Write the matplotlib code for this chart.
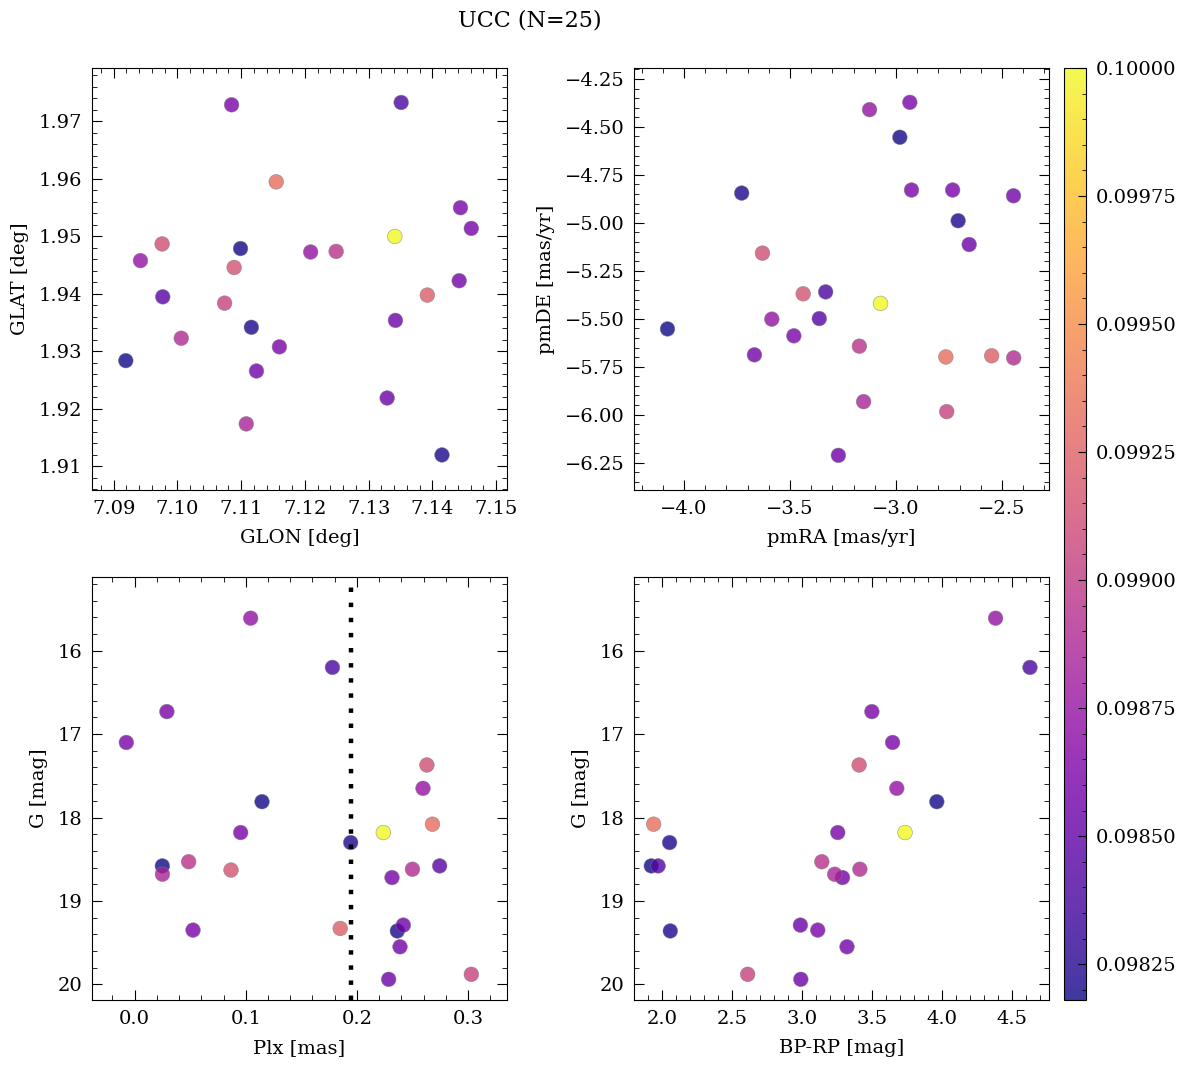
import numpy as np
import matplotlib
matplotlib.use("Agg")
from matplotlib import pyplot as plt
from matplotlib.ticker import FormatStrFormatter, AutoMinorLocator, MultipleLocator

plt.rcParams['font.family'] = ['DejaVu Serif']
plt.rcParams['font.size'] = 14

# one entry per star (25)
plx = np.array([0.1044, 0.178, 0.029, -0.0075, 0.263, 0.2595, 0.1146, 0.268, 0.2238,
                0.0954, 0.1944, 0.0486, 0.0249, 0.2745, 0.0867, 0.250, 0.025, 0.2316,
                0.2418, 0.2364, 0.0525, 0.185, 0.2388, 0.303, 0.2286])
gmag = np.array([15.61, 16.20, 16.73, 17.10, 17.37, 17.65, 17.81, 18.08, 18.18,
                 18.18, 18.30, 18.53, 18.58, 18.58, 18.63, 18.62, 18.68, 18.72,
                 19.29, 19.36, 19.35, 19.33, 19.55, 19.88, 19.94])
bprp = np.array([4.382, 4.628, 3.498, 3.646, 3.407, 3.676, 3.962, 1.938, 3.735,
                 3.254, 2.052, 3.140, 1.921, 1.970, np.nan, 3.412, 3.232, 3.288,
                 2.987, 2.057, 3.111, np.nan, 3.320, 2.610, 2.990])
glon = np.array([7.0942, 7.1351, 7.1085, 7.1444, 7.0976, 7.1209, 7.1099, 7.1155, 7.1341,
                 7.1461, 7.1116, 7.1249, 7.0919, 7.0977, 7.1089, 7.1006, 7.1108, 7.1442,
                 7.1342, 7.1415, 7.1160, 7.1392, 7.1124, 7.1074, 7.1329])
glat = np.array([1.9458, 1.9733, 1.9729, 1.9550, 1.9487, 1.9473, 1.9479, 1.9595, 1.9500,
                 1.9514, 1.9342, 1.9474, 1.9284, 1.9395, 1.9446, 1.9323, 1.9174, 1.9423,
                 1.9354, 1.9120, 1.9308, 1.9398, 1.9266, 1.9384, 1.9219])
pmra = np.array([-3.125, -3.332, -2.935, -2.927, -3.630, -3.586, -2.982, -2.765, -3.073,
                 -2.733, -3.728, -3.173, -4.078, -3.362, -3.438, -2.445, -3.153, -2.446,
                 -2.655, -2.707, -3.482, -2.549, -3.668, -2.761, -3.272])
pmde = np.array([-4.410, -5.360, -4.372, -4.829, -5.158, -5.502, -4.554, -5.699, -5.420,
                 -4.829, -4.845, -5.643, -5.553, -5.499, -5.370, -5.704, -5.932, -4.859,
                 -5.113, -4.989, -5.589, -5.693, -5.688, -5.984, -6.212])
prob = np.array([0.09874, 0.09840, 0.09862, 0.09862, 0.09912, 0.09874, 0.09820, 0.09932, 0.10000,
                 0.09860, 0.09822, 0.09895, 0.09818, 0.09845, 0.09915, 0.09890, 0.09886, 0.09858,
                 0.09855, 0.09821, 0.09862, 0.09922, 0.09858, 0.09905, 0.09855])
plx_line = 0.1944

idx = np.argsort(prob)

W, H = 1186, 1067
fig = plt.figure(figsize=(W / 100, H / 100), dpi=100)

def box(l, r, t, b):
    return [l / W, 1 - b / H, (r - l) / W, (b - t) / H]

ax1 = fig.add_axes(box(92, 507, 68, 490))
ax2 = fig.add_axes(box(634, 1049, 68, 490))
ax3 = fig.add_axes(box(92, 507, 577, 1000))
ax4 = fig.add_axes(box(634, 1049, 577, 1000))
cax = fig.add_axes(box(1064, 1086, 68, 1000))

kw = dict(c=prob[idx], cmap='plasma', vmin=prob.min(), vmax=prob.max(),
          s=112, alpha=0.8, edgecolors='grey', linewidths=0.4)

sc = ax1.scatter(glon[idx], glat[idx], **kw)
ax1.set_xlabel('GLON [deg]')
ax1.set_ylabel('GLAT [deg]')
ax1.set_xlim(7.0866, 7.1517)
ax1.set_ylim(1.9059, 1.9793)
ax1.xaxis.set_major_locator(MultipleLocator(0.01))
ax1.yaxis.set_major_locator(MultipleLocator(0.01))
ax1.yaxis.set_major_formatter(FormatStrFormatter('%.2f'))
ax1.xaxis.set_major_formatter(FormatStrFormatter('%.2f'))

ax2.scatter(pmra[idx], pmde[idx], **kw)
ax2.set_xlabel('pmRA [mas/yr]')
ax2.set_ylabel('pmDE [mas/yr]')
ax2.set_xlim(-4.236, -2.2785)
ax2.set_ylim(-6.3926, -4.193)
ax2.xaxis.set_major_locator(MultipleLocator(0.5))
ax2.yaxis.set_major_locator(MultipleLocator(0.25))

ax3.scatter(plx[idx], gmag[idx], **kw)
ax3.axvline(plx_line, color='k', lw=3.2, linestyle=(0, (1, 2.4)))
ax3.set_xlabel('Plx [mas]')
ax3.set_ylabel('G [mag]')
ax3.set_xlim(-0.0384, 0.3351)
ax3.set_ylim(20.188, 15.116)
ax3.xaxis.set_major_locator(MultipleLocator(0.1))
ax3.yaxis.set_major_locator(MultipleLocator(1))

ax4.scatter(bprp[idx], gmag[idx], **kw)
ax4.set_xlabel('BP-RP [mag]')
ax4.set_ylabel('G [mag]')
ax4.set_xlim(1.7976, 4.764)
ax4.set_ylim(20.188, 15.116)
ax4.xaxis.set_major_locator(MultipleLocator(0.5))
ax4.yaxis.set_major_locator(MultipleLocator(1))

for ax in (ax1, ax2, ax3, ax4):
    ax.xaxis.set_minor_locator(AutoMinorLocator(5))
    ax.yaxis.set_minor_locator(AutoMinorLocator(5))
    ax.tick_params(which='both', direction='in', top=True, right=True, pad=7)
    ax.tick_params(which='major', length=7, width=0.8)
    ax.tick_params(which='minor', length=3.5, width=0.6)
    ax.xaxis.labelpad = 8
    ax.yaxis.labelpad = 7

cb = fig.colorbar(sc, cax=cax)
cb.set_ticks([0.09825, 0.0985, 0.09875, 0.099, 0.09925, 0.0995, 0.09975, 0.1])
cb.ax.yaxis.set_major_formatter(FormatStrFormatter('%.5f'))
cb.ax.minorticks_on()
cb.ax.tick_params(which='both', direction='in', pad=7)
cb.ax.tick_params(which='major', length=6, width=0.8)
cb.ax.tick_params(which='minor', length=3, width=0.6)

fig.text(530 / W, 1 - 20 / H, 'UCC (N=25)', ha='center', va='center', fontsize=16)

fig.savefig('out.png', dpi=100)
